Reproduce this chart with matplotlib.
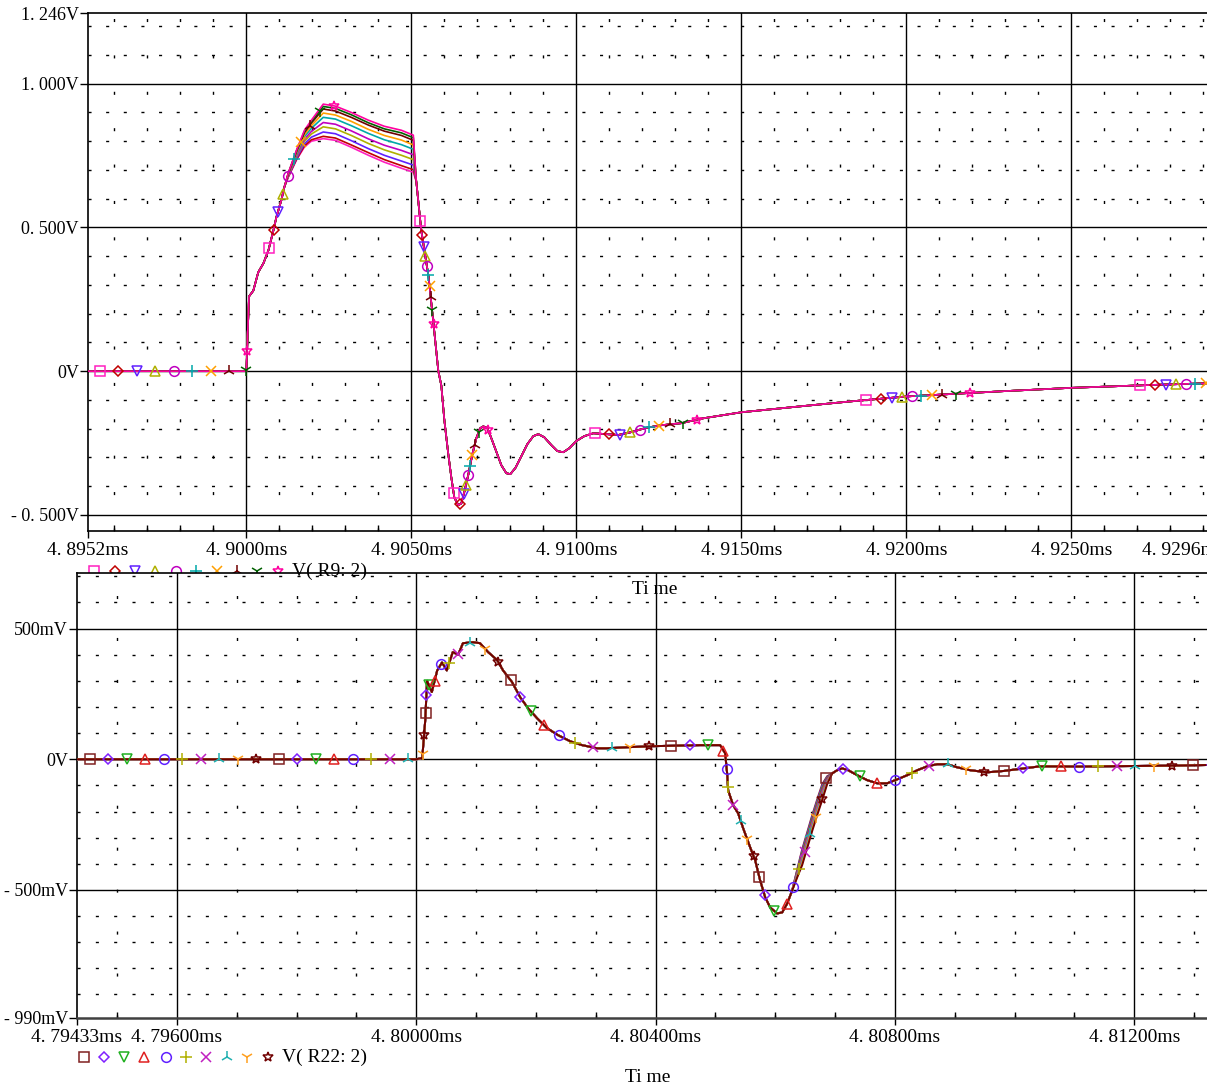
import numpy as np
import matplotlib
matplotlib.use("Agg")
import matplotlib.pyplot as plt
from matplotlib.lines import Line2D

plt.rcParams['font.family'] = ['Liberation Serif', 'DejaVu Serif']

# ---------------- data : V(R9:2) (top) ----------------
t_r9 = [4.8952, 4.9000, 4.90008, 4.90021, 4.90036, 4.90052, 4.90067, 4.90082, 4.90091, 4.90106, 4.90115,
        4.90127, 4.90152, 4.90176, 4.90197, 4.90233, 4.90270, 4.90318, 4.90370, 4.90418, 4.90470, 4.90506,
        4.90515, 4.90530, 4.90552, 4.90567, 4.905818, 4.905909, 4.906000, 4.906121, 4.906212, 4.906303,
        4.906424, 4.906515, 4.906606, 4.906727, 4.906848, 4.906970, 4.907091, 4.907182, 4.907303, 4.907424,
        4.907576, 4.907727, 4.907879, 4.908000, 4.908152, 4.908333, 4.908515, 4.908697, 4.908848, 4.909030,
        4.909242, 4.909424, 4.909606, 4.909788, 4.910000, 4.910242, 4.910515, 4.910909, 4.911273, 4.911667,
        4.912121, 4.912576, 4.913182, 4.913788, 4.91500, 4.91682, 4.91833, 4.92000, 4.92288, 4.92500,
        4.92742, 4.92915, 4.92960]
r9_rise = [0.0, 0.0, 0.26, 0.28, 0.344, 0.376, 0.421, 0.49, 0.536, 0.595, 0.64]
r9_tail = [0.66, 0.49, 0.33, 0.167, 0.0, -0.05, -0.17, -0.29, -0.37, -0.44,
           -0.466, -0.46, -0.42, -0.36, -0.29, -0.233, -0.198, -0.192, -0.198, -0.233,
           -0.28, -0.327, -0.355, -0.358, -0.337, -0.296, -0.254, -0.226, -0.219, -0.23,
           -0.257, -0.278, -0.282, -0.268, -0.243, -0.226, -0.216, -0.219, -0.222, -0.212,
           -0.197, -0.188, -0.181, -0.165, -0.143, -0.122, -0.105, -0.088, -0.07, -0.058,
           -0.048, -0.042, -0.041]
r9_sq   = [0.675, 0.735, 0.780, 0.800, 0.809, 0.803, 0.779, 0.751, 0.727, 0.706, 0.692]
r9_dia  = [0.676, 0.737, 0.784, 0.805, 0.817, 0.811, 0.787, 0.760, 0.736, 0.715, 0.701]
r9_tdn  = [0.678, 0.741, 0.791, 0.814, 0.832, 0.826, 0.802, 0.774, 0.751, 0.731, 0.717]
r9_tup  = [0.680, 0.747, 0.800, 0.825, 0.850, 0.843, 0.820, 0.792, 0.770, 0.751, 0.736]
r9_circ = [0.682, 0.751, 0.807, 0.834, 0.865, 0.859, 0.836, 0.808, 0.786, 0.768, 0.753]
r9_plus = [0.684, 0.756, 0.816, 0.845, 0.883, 0.877, 0.854, 0.827, 0.805, 0.788, 0.772]
r9_x    = [0.685, 0.760, 0.823, 0.854, 0.898, 0.891, 0.869, 0.841, 0.820, 0.804, 0.787]
r9_lam  = [0.687, 0.764, 0.830, 0.863, 0.912, 0.905, 0.883, 0.856, 0.835, 0.820, 0.803]
r9_y    = [0.688, 0.767, 0.834, 0.868, 0.921, 0.914, 0.892, 0.864, 0.843, 0.829, 0.812]
r9_star = [0.689, 0.769, 0.838, 0.873, 0.929, 0.922, 0.900, 0.873, 0.852, 0.838, 0.821]
r9_plateaus = [r9_sq, r9_dia, r9_tdn, r9_tup, r9_circ, r9_plus, r9_x, r9_lam, r9_y, r9_star]

top_xticks = [4.8952, 4.9000, 4.9050, 4.9100, 4.9150, 4.9200, 4.9250, 4.9296]
top_xlabels = ['4. 8952ms', '4. 9000ms', '4. 9050ms', '4. 9100ms', '4. 9150ms', '4. 9200ms', '4. 9250ms', '4. 9296ms']
top_yticks = [-0.5, 0.0, 0.5, 1.0, 1.246]
top_ylabels = ['- 0. 500V', '0V', '0. 500V', '1. 000V', '1. 246V']

# ---------------- data : V(R22:2) (bottom) ----------------
t_r22 = [4.79433, 4.80000, 4.80010, 4.80015, 4.80018, 4.80026, 4.80035, 4.80043, 4.80051, 4.80061,
         4.80070, 4.80078, 4.800949, 4.801066, 4.801200, 4.801350, 4.801450, 4.801601, 4.801735, 4.801868,
         4.802019, 4.802186, 4.802370, 4.802570, 4.802771, 4.803022, 4.803189, 4.803524, 4.803958, 4.804744,
         4.805078, 4.805162, 4.805195, 4.805212, 4.805296, 4.805379, 4.805463, 4.805580, 4.805664, 4.805747,
         4.805831, 4.805914, 4.806031, 4.806115, 4.806199, 4.806282,
         4.806366, 4.806449, 4.806533, 4.806616, 4.806700, 4.806784, 4.806867,
         4.806951, 4.807034, 4.807118, 4.807218, 4.807369, 4.807536, 4.807703, 4.807870, 4.808038, 4.808205,
         4.808372, 4.808539, 4.808706, 4.808874, 4.809041, 4.809258, 4.809542, 4.809810, 4.810428, 4.811097,
         4.811933, 4.812769, 4.813221, 4.81400]
r22_head = [0.0, 0.0, 0.005, 0.15, 0.30, 0.257, 0.34, 0.37, 0.34, 0.41,
            0.40, 0.444, 0.448, 0.444, 0.41, 0.38, 0.34, 0.295, 0.238, 0.195,
            0.157, 0.119, 0.092, 0.069, 0.054, 0.042, 0.042, 0.046, 0.050, 0.054,
            0.054, 0.023, -0.054, -0.119, -0.176, -0.207, -0.264, -0.337, -0.387, -0.464,
            -0.528, -0.567, -0.59, -0.586, -0.552, -0.502]
r22_tail = [-0.054, -0.042, -0.035, -0.042, -0.061, -0.08, -0.092, -0.092, -0.077, -0.061,
            -0.042, -0.027, -0.019, -0.019, -0.031, -0.042, -0.05, -0.045, -0.027, -0.028,
            -0.026, -0.024, -0.022, -0.022]
r22_sq   = [-0.422, -0.345, -0.280, -0.215, -0.154, -0.096, -0.065]
r22_dia  = [-0.426, -0.352, -0.287, -0.222, -0.161, -0.103, -0.069]
r22_tdn  = [-0.429, -0.358, -0.293, -0.228, -0.167, -0.109, -0.072]
r22_tup  = [-0.432, -0.365, -0.300, -0.235, -0.174, -0.116, -0.075]
r22_circ = [-0.436, -0.372, -0.307, -0.242, -0.181, -0.123, -0.079]
r22_plus = [-0.439, -0.378, -0.313, -0.248, -0.187, -0.129, -0.082]
r22_x    = [-0.442, -0.385, -0.320, -0.255, -0.194, -0.136, -0.085]
r22_lam  = [-0.446, -0.392, -0.327, -0.262, -0.201, -0.143, -0.089]
r22_y    = [-0.449, -0.398, -0.333, -0.268, -0.207, -0.149, -0.092]
r22_star = [-0.452, -0.405, -0.340, -0.275, -0.214, -0.156, -0.095]
r22_edges = [r22_sq, r22_dia, r22_tdn, r22_tup, r22_circ, r22_plus, r22_x, r22_lam, r22_y, r22_star]

bot_xticks = [4.79433, 4.79600, 4.80000, 4.80400, 4.80800, 4.81200]
bot_xlabels = ['4. 79433ms', '4. 79600ms', '4. 80000ms', '4. 80400ms', '4. 80800ms', '4. 81200ms']
bot_yticks = [-0.99, -0.5, 0.0, 0.5]
bot_ylabels = ['- 990mV', '- 500mV', '0V', '500mV']

# ---------------- styles ----------------
markers = ['s', 'D', 'v', '^', 'o', '+', 'x', '2', '1', '*']
msizes = [7, 5.5, 7, 7, 7, 8, 7, 9, 9, 7]
top_colors = ['#ff20c0', '#c00000', '#6020ff', '#b0b000', '#c000c0',
              '#00a8a8', '#ffa000', '#700000', '#006000', '#ff00a0']
bot_colors = ['#802020', '#8020ff', '#20b020', '#e02020', '#6020ff',
              '#b0b000', '#c020c0', '#20b0b0', '#ffa020', '#700000']

W, H = 1207, 1086
fig = plt.figure(figsize=(W / 100, H / 100), dpi=100)
FS = 14
FSY = 13


def fx(px):
    return px / W


def fy(py):
    return 1 - py / H


def style_axes(ax, xmaj, xmin, ymaj, ymin, vdash, hdash, xl, yl):
    for v in xmaj:
        ax.axvline(v, color='black', lw=1.0, zorder=1)
    for v in ymaj:
        ax.axhline(v, color='black', lw=1.0, zorder=1)
    for v in xmin:
        ax.axvline(v, color='black', lw=1.0, ls=(0, vdash), zorder=1)
    for v in ymin:
        ax.axhline(v, color='black', lw=1.0, ls=(0, hdash), zorder=1)
    ax.spines['right'].set_visible(False)
    for s in ['left', 'bottom', 'top']:
        ax.spines[s].set_linewidth(1.2)
        ax.spines[s].set_color('black')
    ax.set_xticks(xl[0])
    ax.set_xticklabels(xl[1], fontsize=FS)
    ax.set_yticks(yl[0])
    ax.set_yticklabels(yl[1], fontsize=FSY)
    ax.set_xticks(xmin, minor=True)
    ax.tick_params(axis='x', which='major', direction='out', length=5, width=1, pad=3)
    ax.tick_params(axis='x', which='minor', direction='in', length=4, width=1)
    ax.tick_params(axis='y', which='major', direction='out', length=6, width=1, pad=0.5)
    ax.tick_params(axis='y', which='minor', left=False)


def trace(ax, x, y, color, mk, ms, start, step, lw):
    ax.plot(x, y, color=color, lw=lw, zorder=3)
    # markers spaced evenly along the drawn curve (display arc length)
    pts = ax.transData.transform(np.column_stack([x, y]))
    seg = np.hypot(np.diff(pts[:, 0]), np.diff(pts[:, 1]))
    cum = np.concatenate([[0.0], np.cumsum(seg)])
    diag = np.hypot(ax.bbox.width, ax.bbox.height)
    s = np.arange(start * diag, cum[-1], step * diag)
    px = np.interp(s, cum, pts[:, 0])
    py = np.interp(s, cum, pts[:, 1])
    d = ax.transData.inverted().transform(np.column_stack([px, py]))
    ax.plot(d[:, 0], d[:, 1], ls='none', marker=mk, ms=ms, mfc='none', mew=1.1,
            color=color, zorder=4, clip_on=True)


# ---------------- top axes ----------------
ax1 = fig.add_axes([fx(88), fy(531), fx(1223 - 88), (531 - 13) / H])
ax1.set_xlim(4.8952, 4.9296)
ax1.set_ylim(-0.556, 1.246)
top_major_x = [4.900, 4.905, 4.910, 4.915, 4.920, 4.925]
top_xmin = [v for v in np.round(np.arange(4.896, 4.9296, 0.001), 4)
            if all(abs(v - m) > 1e-6 for m in top_major_x)]
top_ymin = [v for v in np.round(np.arange(-0.4, 1.21, 0.1), 2) if abs(v * 2 - round(v * 2)) > 1e-6]
style_axes(ax1, top_major_x, top_xmin, [-0.5, 0.0, 0.5, 1.0], top_ymin, (2.2, 24), (2.2, 10.5),
           (top_xticks, top_xlabels), (top_yticks, top_ylabels))
ax1.get_xticklabels()[-1].set_ha('right')

for i in range(10):
    vals = r9_rise + r9_plateaus[i] + r9_tail
    trace(ax1, t_r9, vals, top_colors[i], markers[i], msizes[i], 0.0096 + 0.0148 * i, 0.22, 1.2)

# ---------------- bottom axes ----------------
ax2 = fig.add_axes([fx(77), fy(1018), fx(1254 - 77), (1018 - 573) / H])
ax2.set_xlim(4.79433, 4.8140)
ax2.set_ylim(-0.990, 0.7126)
bot_major_x = [4.796, 4.800, 4.804, 4.808, 4.812]
bot_xmin = [v for v in np.round(np.arange(4.795, 4.8140, 0.001), 3)
            if all(abs(v - m) > 1e-6 for m in bot_major_x)]
bot_ymin = [v for v in np.round(np.arange(-0.9, 0.71, 0.1), 2) if abs(v * 2 - round(v * 2)) > 1e-6]
style_axes(ax2, bot_major_x, bot_xmin, [-0.5, 0.0, 0.5], bot_ymin, (2.2, 28), (2.2, 11),
           (bot_xticks, bot_xlabels), (bot_yticks, bot_ylabels))
ax2.spines['bottom'].set_color('#404040')
ax2.spines['bottom'].set_linewidth(1.8)

for i in range(10):
    vals = r22_head + r22_edges[i] + r22_tail
    trace(ax2, t_r22, vals, bot_colors[i], markers[i], msizes[i], 0.0103 + 0.0147 * i, 0.15, 1.4)

# ---------------- legends & axis titles ----------------
top_leg_x = [94, 115, 135, 155, 176, 196, 217, 237, 257, 278]
for i, px in enumerate(top_leg_x):
    fig.add_artist(Line2D([fx(px)], [fy(571)], transform=fig.transFigure, ls='none',
                          marker=markers[i], ms=msizes[i], mfc='none', mew=1.1,
                          color=top_colors[i], zorder=0))
fig.text(fx(292), fy(571), 'V( R9: 2)', fontsize=FS, va='center', ha='left', zorder=0)
fig.text(fx(655), fy(590), 'Ti me', fontsize=FS, va='center', ha='center')

bot_leg_x = [84, 104, 124, 144, 166, 186, 206, 227, 247, 268]
for i, px in enumerate(bot_leg_x):
    fig.add_artist(Line2D([fx(px)], [fy(1057)], transform=fig.transFigure, ls='none',
                          marker=markers[i], ms=msizes[i], mfc='none', mew=1.1,
                          color=bot_colors[i]))
fig.text(fx(282), fy(1057), 'V( R22: 2)', fontsize=FS, va='center', ha='left')
fig.text(fx(648), fy(1077), 'Ti me', fontsize=FS, va='center', ha='center')

fig.savefig('out.png', dpi=100)
